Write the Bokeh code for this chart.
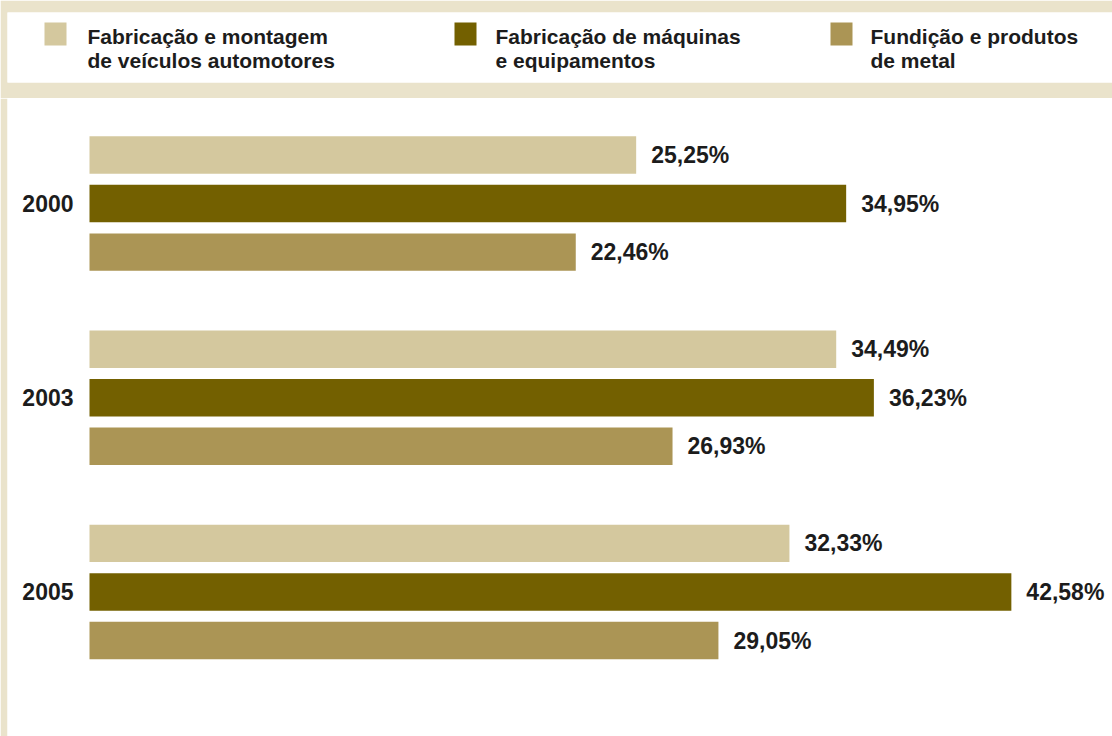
from bokeh.plotting import figure
from bokeh.layouts import column
from bokeh.models import Range1d, ColumnDataSource
from bokeh.core.properties import value
from bokeh.embed import file_html
from bokeh.resources import INLINE

# ---- data ----
years = ["2000", "2003", "2005"]
series = ["Fabricação e montagem de veículos automotores",
          "Fabricação de máquinas e equipamentos",
          "Fundição e produtos de metal"]
legend_lines = [["Fabricação e montagem", "de veículos automotores"],
                ["Fabricação de máquinas", "e equipamentos"],
                ["Fundição e produtos", "de metal"]]
veiculos = [25.25, 34.49, 32.33]
maquinas = [34.95, 36.23, 42.58]
fundicao = [22.46, 26.93, 29.05]
colors = ["#D4C89E", "#736000", "#AB9555"]

BEIGE = "#EAE3CB"
TXT = "#1c1c1c"
FONT = value("Liberation Sans")

# ---- legend panel ----
lg = figure(width=1112, height=98, output_backend="svg", toolbar_location=None,
            x_axis_location=None, y_axis_location=None,
            x_range=Range1d(0, 1105), y_range=Range1d(70, 0),
            min_border_left=7, min_border_right=0, min_border_top=12, min_border_bottom=16,
            background_fill_color="white", border_fill_color=BEIGE, outline_line_color=None)
lg.xgrid.visible = False
lg.ygrid.visible = False
sq_x = [48, 458, 834]
txt_x = [80, 488, 863]
lg.rect(x=sq_x, y=[21.5] * 3, width=22, height=23, fill_color=colors, line_color=None)
lg.text(x=txt_x, y=[23.5] * 3, text=[l[0] for l in legend_lines], text_font=FONT,
        text_font_size="21px", text_font_style="bold", text_color=TXT,
        text_baseline="alphabetic", text_align="left")
lg.text(x=txt_x, y=[47.5] * 3, text=[l[1] for l in legend_lines], text_font=FONT,
        text_font_size="21px", text_font_style="bold", text_color=TXT,
        text_baseline="alphabetic", text_align="left")

# ---- main bar panel ----
vals, ys, cols = [], [], []
for g, yr in enumerate(years):
    for s, arr in enumerate([veiculos, maquinas, fundicao]):
        vals.append(arr[g])
        ys.append(g * 4 + s)
        cols.append(colors[s])
labels = [("%.2f%%" % v).replace(".", ",") for v in vals]
src = ColumnDataSource(dict(v=vals, y=ys, c=cols, lab=labels))

pxu = 21.65
p = figure(width=1112, height=638, output_backend="svg", toolbar_location=None,
           x_axis_location=None, y_axis_location=None,
           x_range=Range1d(-82 / pxu, (1105 - 82) / pxu),
           y_range=Range1d(11.977, -1.164),
           min_border_left=7, min_border_right=0, min_border_top=0, min_border_bottom=0,
           background_fill_color="white", border_fill_color=BEIGE, outline_line_color=None)
p.xgrid.visible = False
p.ygrid.visible = False
p.hbar(y="y", left=0, right="v", height=0.77, fill_color="c", line_color=None, source=src)
p.text(x="v", y="y", text="lab", source=src, x_offset=15, text_font=FONT,
       text_font_size="23px", text_font_style="bold", text_color=TXT,
       text_baseline="middle", text_align="left")
p.text(x=[0] * 3, y=[g * 4 + 1 for g in range(3)], text=years, x_offset=-16,
       text_font=FONT, text_font_size="23px", text_font_style="bold", text_color=TXT,
       text_baseline="middle", text_align="right")

layout = column(lg, p, spacing=0)
open("out.html", "w").write(file_html(layout, INLINE))
